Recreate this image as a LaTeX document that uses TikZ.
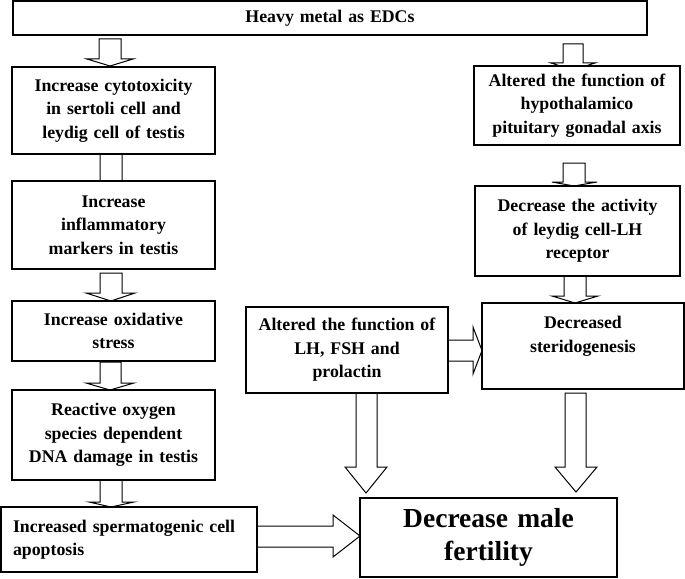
\documentclass[tikz,border=0pt]{standalone}
\usepackage{fontspec}
\setmainfont{Liberation Serif}
\begin{document}
\begin{tikzpicture}[x=1pt,y=-1pt,
  box/.style={draw, fill=white, line width=1.1pt, inner sep=0pt, align=center,
    font=\fontsize{17.8}{23.5}\selectfont\bfseries},
  bigtext/.style={font=\fontsize{27.5}{33}\selectfont\bfseries},
  blk/.style={draw, fill=white, line width=1pt, line join=miter}]
\useasboundingbox (0,0) rectangle (685,578);

% ---- block arrows (drawn first, boxes cover their ends) ----
% top -> box1
\draw[blk] (99,39) -- (99,59) -- (87,59) -- (110,66) -- (133,59) -- (121,59) -- (121,39) -- cycle;
% top -> HPG
\draw[blk] (563,44) -- (563,63) -- (551,63) -- (573,70) -- (595,63) -- (583,63) -- (583,44) -- cycle;
% box1 -> box2
\draw[blk] (100,154) -- (100,185) -- (88,185) -- (111,192) -- (134,185) -- (122,185) -- (122,154) -- cycle;
% box2 -> box3
\draw[blk] (100,273) -- (100,293) -- (86,293) -- (111,301) -- (135,293) -- (122,293) -- (122,273) -- cycle;
% box3 -> box4
\draw[blk] (100,362) -- (100,383) -- (86,383) -- (110,390) -- (134,383) -- (121,383) -- (121,362) -- cycle;
% box4 -> box5
\draw[blk] (100,480) -- (100,502) -- (89,502) -- (111,507) -- (134,502) -- (122,502) -- (122,480) -- cycle;
% HPG -> activity
\draw[blk] (563,163) -- (563,182) -- (552,182) -- (574,186) -- (597,182) -- (585,182) -- (585,163) -- cycle;
% activity -> steroidogenesis
\draw[blk] (564,276) -- (564,296) -- (552,296) -- (575,303) -- (598,296) -- (586,296) -- (586,276) -- cycle;
% LH -> steroidogenesis
\draw[blk] (448,340) -- (473,340) -- (473,327) -- (482,350.5) -- (473,374) -- (473,361) -- (448,361) -- cycle;
% LH -> bottom
\draw[blk] (356,393) -- (356,467) -- (345,467) -- (366,493) -- (387,467) -- (377,467) -- (377,393) -- cycle;
% steroidogenesis -> bottom
\draw[blk] (565,393) -- (565,467) -- (555,467) -- (576,492) -- (597,467) -- (586,467) -- (586,393) -- cycle;
% box5 -> bottom
\draw[blk] (257,526) -- (333,526) -- (333,515) -- (360,536) -- (333,557) -- (333,547) -- (257,547) -- cycle;

% ---- boxes ----
\node[box, minimum width=634pt, minimum height=34pt, text width=620pt] (top) at (330,18) {Heavy metal as EDCs};

\node[box, minimum width=203pt, minimum height=87pt, text width=195pt] (b1) at (113.5,110.5)
  {Increase cytotoxicity\\in sertoli cell and\\leydig cell of testis};
\node[box, minimum width=203pt, minimum height=88pt, text width=195pt] (b2) at (113.5,225)
  {Increase\\inflammatory\\markers in testis};
\node[box, minimum width=203pt, minimum height=60pt, text width=195pt] (b3) at (113.5,331)
  {Increase oxidative\\stress};
\node[box, minimum width=203pt, minimum height=90pt, text width=195pt] (b4) at (113.5,435)
  {Reactive oxygen\\species dependent\\DNA damage in testis};
\node[box, minimum width=256pt, minimum height=65pt, text width=232pt, align=left] (b5) at (129,539.5)
  {Increased spermatogenic cell\\apoptosis};

\node[box, minimum width=202pt, minimum height=86pt, text width=194pt] (lh) at (347,350)
  {Altered the function of\\LH, FSH and\\prolactin};

\node[box, minimum width=206pt, minimum height=79pt, text width=198pt] (hpg) at (577,105.5)
  {Altered the function of\\hypothalamico\\pituitary gonadal axis};
\node[box, minimum width=205pt, minimum height=90pt, text width=197pt] (act) at (577.5,231)
  {Decrease the activity\\of leydig cell-LH\\receptor};
\node[box, minimum width=202pt, minimum height=86pt, text width=194pt] (ster) at (583,346)
  {Decreased\\steridogenesis\\\mbox{}};

\node[box, bigtext, minimum width=257pt, minimum height=79pt, text width=249pt] (bot) at (488.5,537.5)
  {Decrease male\\fertility};
\end{tikzpicture}
\end{document}
